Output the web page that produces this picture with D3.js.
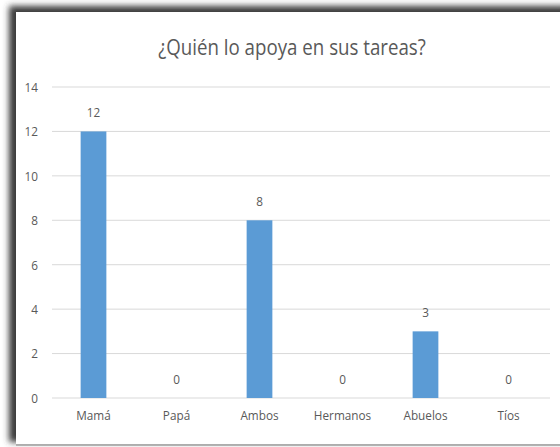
<!DOCTYPE html>
<html>
<head>
<meta charset="utf-8">
<script src="https://cdn.jsdelivr.net/npm/d3@7"></script>
<style>
  body { margin: 0; background: #fff; }
  text { font-family: "Open Sans", sans-serif; fill: #595959; }
</style>
</head>
<body>
<div id="chart"></div>
<script>
'use strict';
var categories = ['Mamá', 'Papá', 'Ambos', 'Hermanos', 'Abuelos', 'Tíos'];
var values = [12, 0, 8, 0, 3, 0];
var yTicks = [0, 2, 4, 6, 8, 10, 12, 14];
var title = '¿Quién lo apoya en sus tareas?';

var W = 560, H = 447;
var margin = {top: 87, right: 10, bottom: 49, left: 52}
    ,width = W - margin.left - margin.right
    ,height = H - margin.top - margin.bottom;

// squeeze text a bit so it looks like a narrow office font
function condense(sel, k) {
  sel.each(function() {
    var len = this.getComputedTextLength();
    d3.select(this).attr('textLength', len * k).attr('lengthAdjust', 'spacingAndGlyphs');
  });
}

var svg = d3.select('#chart').append('svg')
    .attr('width', W)
    .attr('height', H);

// frame with a dark shadow on the top and left
var defs = svg.append('defs');
defs.append('filter').attr('id', 'blur')
    .attr('x', '-10%').attr('y', '-10%').attr('width', '120%').attr('height', '120%')
  .append('feGaussianBlur').attr('stdDeviation', 3);

svg.append('rect')
    .attr('x', 9).attr('y', 6)
    .attr('width', W).attr('height', 436)
    .attr('fill', '#3a3a3a')
    .attr('filter', 'url(#blur)');
svg.append('rect')
    .attr('x', 16).attr('y', 12)
    .attr('width', W - 16).attr('height', 432)
    .attr('fill', '#fff');
svg.append('line')
    .attr('x1', 16).attr('x2', W)
    .attr('y1', 445).attr('y2', 445)
    .attr('stroke', '#a0a0a0').attr('stroke-width', 1.5);

svg.append('text')
    .attr('x', 292).attr('y', 55)
    .attr('text-anchor', 'middle')
    .style('font-size', '22px')
    .text(title)
    .call(condense, 0.85);

var g = svg.append('g')
    .attr('transform', 'translate(' + margin.left + ',' + margin.top + ')');

var x = d3.scaleBand().domain(categories).range([0, width]).paddingInner(0.69).paddingOuter(0.345);
var y = d3.scaleLinear().domain([0, 14]).range([height, 0]);

// gridlines
g.selectAll('.grid')
    .data(yTicks).enter()
    .append('line')
      .attr('x1', 0).attr('x2', width)
      .attr('y1', function(d) { return y(d); })
      .attr('y2', function(d) { return y(d); })
      .attr('stroke', '#d9d9d9')
      .attr('stroke-width', 1);

var yAxis = g.append('g')
    .call(d3.axisLeft(y).tickValues(yTicks).tickSize(0).tickPadding(14));
yAxis.select('.domain').remove();
yAxis.selectAll('text').style('font-size', '13.5px').attr('fill', '#595959').call(condense, 0.87);

var xAxis = g.append('g')
    .attr('transform', 'translate(0,' + height + ')')
    .call(d3.axisBottom(x).tickSize(0).tickPadding(12));
xAxis.select('.domain').remove();
xAxis.selectAll('text').style('font-size', '13.5px').attr('fill', '#595959').call(condense, 0.87);

g.selectAll('.bar')
    .data(values).enter()
    .append('rect')
      .attr('x', function(d, i) { return x(categories[i]); })
      .attr('y', function(d) { return y(d); })
      .attr('width', x.bandwidth())
      .attr('height', function(d) { return height - y(d); })
      .attr('fill', '#5b9bd5');

g.selectAll('.label')
    .data(values).enter()
    .append('text')
      .attr('x', function(d, i) { return x(categories[i]) + x.bandwidth() / 2; })
      .attr('y', function(d) { return y(d) - 14; })
      .attr('text-anchor', 'middle')
      .style('font-size', '13.5px')
      .text(function(d) { return d; })
      .call(condense, 0.87);
</script>
</body>
</html>
